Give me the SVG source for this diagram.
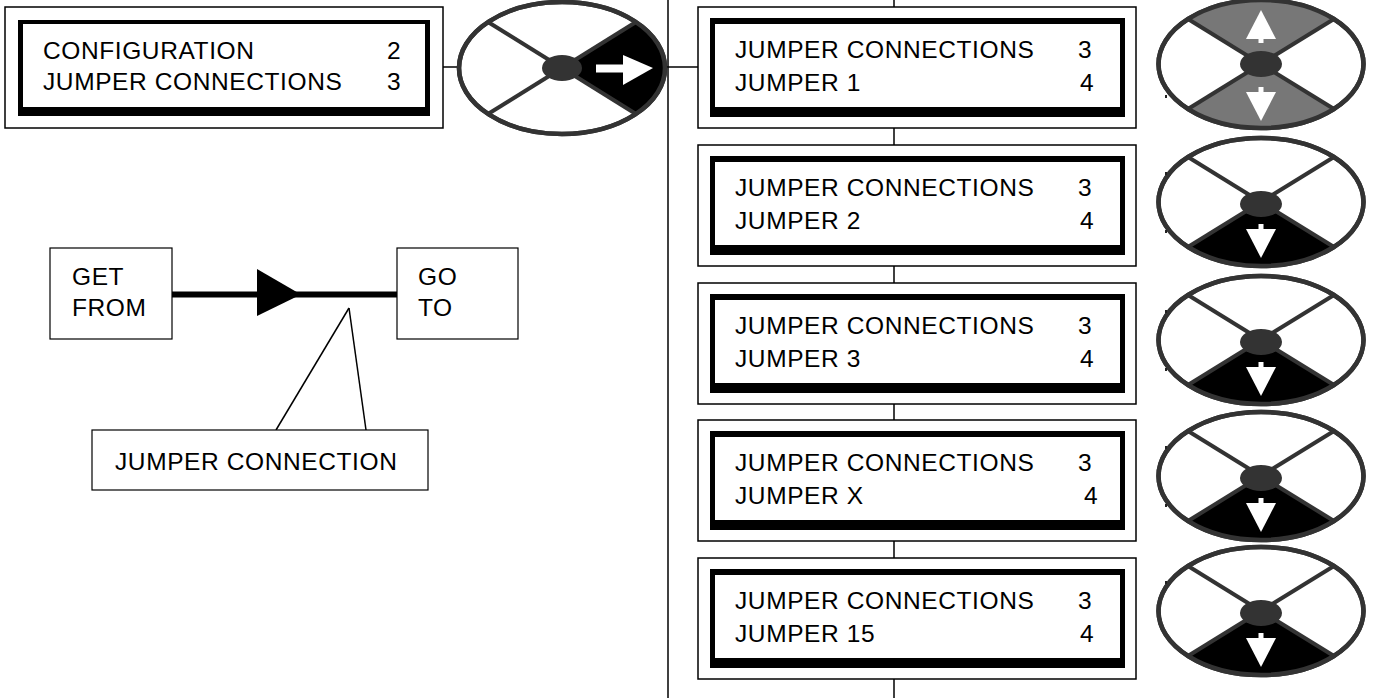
<svg xmlns="http://www.w3.org/2000/svg" width="1375" height="698" viewBox="0 0 1375 698">
<style>
text{font-family:"Liberation Sans",Arial,sans-serif;font-size:24.5px;letter-spacing:0.6px;fill:#000}
.outer{fill:#fff;stroke:#000;stroke-width:1.5}
.frame{fill:#000}
.inner{fill:#fff}
.wire{stroke:#000;stroke-width:1.5;fill:none}
.ring{fill:#fff;stroke:#333;stroke-width:4.5}
.rim{fill:none;stroke:#333;stroke-width:4.5}
.spoke{stroke:#333;stroke-width:4}
.hub{fill:#333}
.dark{fill:#000}
.grey{fill:#777}
.arr{fill:#fff}
.thin{fill:#fff;stroke:#000;stroke-width:1.2}
.speck{fill:#222}
</style>

<g id="connectors">
<line class="wire" x1="668" y1="0" x2="668" y2="698"/>
<line class="wire" x1="443" y1="67" x2="459" y2="67"/>
<line class="wire" x1="664" y1="67" x2="698" y2="67"/>
<line class="wire" x1="894" y1="0" x2="894" y2="7"/>
<line class="wire" x1="894" y1="128" x2="894" y2="145"/>
<line class="wire" x1="894" y1="266" x2="894" y2="283"/>
<line class="wire" x1="894" y1="404" x2="894" y2="420"/>
<line class="wire" x1="894" y1="541" x2="894" y2="558"/>
<line class="wire" x1="894" y1="679" x2="894" y2="698"/>
<line x1="172" y1="294.5" x2="397" y2="294.5" stroke="#000" stroke-width="6"/>
<polygon points="257,269 301,294.5 257,316" fill="#000"/>
<line class="wire" x1="349" y1="308" x2="276" y2="430" stroke-width="1.2"/>
<line class="wire" x1="349" y1="308" x2="366" y2="430" stroke-width="1.2"/>
</g>

<g id="node-config">
<rect class="outer" x="5" y="7" width="438" height="121"/>
<rect class="frame" x="18" y="20" width="412" height="96"/>
<rect class="inner" x="23" y="24" width="402" height="83"/>
<text x="43" y="59">CONFIGURATION</text>
<text x="387" y="59">2</text>
<text x="43" y="90">JUMPER CONNECTIONS</text>
<text x="387" y="90">3</text>
</g>

<g id="dial-right" transform="translate(562,68)">
<ellipse class="ring" cx="0" cy="0" rx="103" ry="66"/>
<path class="dark" d="M0,0 L74,-46 A103 66 0 0 1 74,46 Z"/>
<line class="spoke" x1="-74" y1="-46" x2="74" y2="46"/>
<line class="spoke" x1="-74" y1="46" x2="74" y2="-46"/>
<ellipse class="rim" cx="0" cy="0" rx="103" ry="66"/>
<ellipse class="hub" cx="0" cy="0" rx="20" ry="13"/>
<rect class="arr" x="34" y="-3.5" width="28" height="8"/>
<polygon class="arr" points="61,-13 91,0 61,17"/>
</g>

<g id="node-jumper-1">
<rect class="outer" x="698" y="7" width="438" height="121"/>
<rect class="frame" x="710" y="18" width="415" height="99"/>
<rect class="inner" x="715" y="24" width="405" height="83"/>
<text x="735" y="58">JUMPER CONNECTIONS</text>
<text x="1078" y="58">3</text>
<text x="735" y="91">JUMPER 1</text>
<text x="1080" y="91">4</text>
</g>
<g id="node-jumper-2" transform="translate(0,138)">
<rect class="outer" x="698" y="7" width="438" height="121"/>
<rect class="frame" x="710" y="18" width="415" height="99"/>
<rect class="inner" x="715" y="24" width="405" height="83"/>
<text x="735" y="58">JUMPER CONNECTIONS</text>
<text x="1078" y="58">3</text>
<text x="735" y="91">JUMPER 2</text>
<text x="1080" y="91">4</text>
</g>
<g id="node-jumper-3" transform="translate(0,276)">
<rect class="outer" x="698" y="7" width="438" height="121"/>
<rect class="frame" x="710" y="18" width="415" height="99"/>
<rect class="inner" x="715" y="24" width="405" height="83"/>
<text x="735" y="58">JUMPER CONNECTIONS</text>
<text x="1078" y="58">3</text>
<text x="735" y="91">JUMPER 3</text>
<text x="1080" y="91">4</text>
</g>
<g id="node-jumper-x" transform="translate(0,413)">
<rect class="outer" x="698" y="7" width="438" height="121"/>
<rect class="frame" x="710" y="18" width="415" height="99"/>
<rect class="inner" x="715" y="24" width="405" height="83"/>
<text x="735" y="58">JUMPER CONNECTIONS</text>
<text x="1078" y="58">3</text>
<text x="735" y="91">JUMPER X</text>
<text x="1084" y="91">4</text>
</g>
<g id="node-jumper-15" transform="translate(0,551)">
<rect class="outer" x="698" y="7" width="438" height="121"/>
<rect class="frame" x="710" y="18" width="415" height="99"/>
<rect class="inner" x="715" y="24" width="405" height="83"/>
<text x="735" y="58">JUMPER CONNECTIONS</text>
<text x="1078" y="58">3</text>
<text x="735" y="91">JUMPER 15</text>
<text x="1080" y="91">4</text>
</g>

<g id="dial-updown" transform="translate(1261,64)">
<ellipse class="ring" cx="0" cy="0" rx="102.5" ry="64"/>
<path class="grey" d="M0,0 L-73,-45 A102.5 64 0 0 1 73,-45 Z"/>
<path class="grey" d="M0,0 L-73,45 A102.5 64 0 0 0 73,45 Z"/>
<line class="spoke" x1="-73" y1="-45" x2="73" y2="45"/>
<line class="spoke" x1="-73" y1="45" x2="73" y2="-45"/>
<ellipse class="rim" cx="0" cy="0" rx="102.5" ry="64"/>
<ellipse class="hub" cx="0" cy="0" rx="21" ry="13"/>
<polygon class="arr" points="0,-54 15,-25 -15,-25"/>
<rect class="arr" x="-2.5" y="-26" width="5" height="5"/>
<rect class="arr" x="-2.5" y="23" width="5" height="6"/>
<polygon class="arr" points="-15,28 15,28 0,57"/>
<rect class="speck" x="-96" y="31" width="2" height="3"/>
</g>
<g id="dial-down-2" transform="translate(1261,202)">
<ellipse class="ring" cx="0" cy="0" rx="102.5" ry="64"/>
<path class="dark" d="M0,0 L-73,45 A102.5 64 0 0 0 73,45 Z"/>
<line class="spoke" x1="-73" y1="-45" x2="73" y2="45"/>
<line class="spoke" x1="-73" y1="45" x2="73" y2="-45"/>
<ellipse class="rim" cx="0" cy="0" rx="102.5" ry="64"/>
<ellipse class="hub" cx="0" cy="2" rx="21" ry="13"/>
<rect class="arr" x="-2.5" y="22" width="5" height="6"/>
<polygon class="arr" points="-15,27 15,27 0,56"/>
<rect class="speck" x="-96" y="-30" width="2" height="3"/>
<rect class="speck" x="-96" y="28" width="2" height="3"/>
</g>
<g id="dial-down-3" transform="translate(1261,340)">
<ellipse class="ring" cx="0" cy="0" rx="102.5" ry="64"/>
<path class="dark" d="M0,0 L-73,45 A102.5 64 0 0 0 73,45 Z"/>
<line class="spoke" x1="-73" y1="-45" x2="73" y2="45"/>
<line class="spoke" x1="-73" y1="45" x2="73" y2="-45"/>
<ellipse class="rim" cx="0" cy="0" rx="102.5" ry="64"/>
<ellipse class="hub" cx="0" cy="2" rx="21" ry="13"/>
<rect class="arr" x="-2.5" y="22" width="5" height="6"/>
<polygon class="arr" points="-15,27 15,27 0,56"/>
<rect class="speck" x="-96" y="-30" width="2" height="3"/>
<rect class="speck" x="-96" y="28" width="2" height="3"/>
</g>
<g id="dial-down-x" transform="translate(1261,476)">
<ellipse class="ring" cx="0" cy="0" rx="102.5" ry="64"/>
<path class="dark" d="M0,0 L-73,45 A102.5 64 0 0 0 73,45 Z"/>
<line class="spoke" x1="-73" y1="-45" x2="73" y2="45"/>
<line class="spoke" x1="-73" y1="45" x2="73" y2="-45"/>
<ellipse class="rim" cx="0" cy="0" rx="102.5" ry="64"/>
<ellipse class="hub" cx="0" cy="2" rx="21" ry="13"/>
<rect class="arr" x="-2.5" y="22" width="5" height="6"/>
<polygon class="arr" points="-15,27 15,27 0,56"/>
<rect class="speck" x="-96" y="-30" width="2" height="3"/>
<rect class="speck" x="-96" y="28" width="2" height="3"/>
</g>
<g id="dial-down-15" transform="translate(1261,611)">
<ellipse class="ring" cx="0" cy="0" rx="102.5" ry="64"/>
<path class="dark" d="M0,0 L-73,45 A102.5 64 0 0 0 73,45 Z"/>
<line class="spoke" x1="-73" y1="-45" x2="73" y2="45"/>
<line class="spoke" x1="-73" y1="45" x2="73" y2="-45"/>
<ellipse class="rim" cx="0" cy="0" rx="102.5" ry="64"/>
<ellipse class="hub" cx="0" cy="2" rx="21" ry="13"/>
<rect class="arr" x="-2.5" y="22" width="5" height="6"/>
<polygon class="arr" points="-15,27 15,27 0,56"/>
<rect class="speck" x="-96" y="-30" width="2" height="3"/>
</g>

<g id="node-get-from">
<rect class="thin" x="50" y="248" width="122" height="91"/>
<text x="72" y="285">GET</text>
<text x="72" y="316">FROM</text>
</g>
<g id="node-go-to">
<rect class="thin" x="397" y="248" width="121" height="91"/>
<text x="418" y="285">GO</text>
<text x="418" y="316">TO</text>
</g>
<g id="node-callout">
<rect class="thin" x="92" y="430" width="336" height="60"/>
<text x="115" y="470">JUMPER CONNECTION</text>
</g>
</svg>
